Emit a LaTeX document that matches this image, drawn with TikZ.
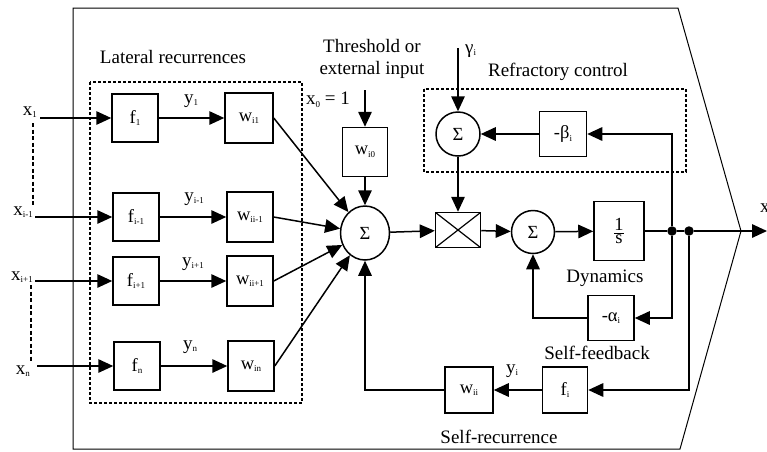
\documentclass[tikz,border=0pt]{standalone}
\usepackage{fontspec}
\setmainfont{Liberation Serif}
\usetikzlibrary{arrows.meta,shapes.geometric}
\newcommand\sbs[1]{\raisebox{-2.5pt}{\fontsize{9}{9}\selectfont #1}}
\begin{document}
\begin{tikzpicture}[x=1pt,y=-1pt,
  blk/.style={draw,line width=1.5pt,inner sep=0pt,font=\fontsize{18.5}{18.5}\selectfont},
  fblk/.style={blk,minimum width=46pt,minimum height=48pt},
  wblk/.style={blk,minimum width=46pt,minimum height=50pt},
  sumc/.style={blk,circle,minimum size=#1},
  lbl/.style={inner sep=0pt,font=\fontsize{19}{22}\selectfont},
  arr/.style={line width=1.5pt,-{Triangle[length=15pt,width=13.5pt]}},
  ln/.style={line width=1.5pt},
  dashbox/.style={line width=1.6pt,dash pattern=on 3pt off 2pt},
  ldash/.style={line width=1.6pt,dash pattern=on 4pt off 2.5pt},
  dot/.style={circle,fill,inner sep=0pt,minimum size=9.5pt}
]
\useasboundingbox (0,0) rectangle (767,451);
% outer frame
\draw[line width=1pt] (73,8) -- (678,8) -- (741,231) -- (680,449) -- (73,449) -- cycle;
% lateral box
\draw[dashbox] (90,82) rectangle (302,403);
\node[lbl] (latl) at (173,57) {Lateral recurrences};
% inputs labels
\node[lbl,anchor=base east] (xl1) at (37,115) {x\sbs{1}};
\node[lbl,anchor=base east] (xl2) at (33,215) {x\sbs{i-1}};
\node[lbl,anchor=base east] (xl3) at (33,280) {x\sbs{i+1}};
\node[lbl,anchor=base east] (xl4) at (30,374) {x\sbs{n}};
\coordinate (in1) at (40,118);
\coordinate (in2) at (35,217);
\coordinate (in3) at (35,281);
\coordinate (in4) at (37,366);
\draw[ldash] (33,123) -- (33,207);
\draw[ldash] (31,285) -- (31,362);
% f boxes
\node[fblk] (f1) at (135,118) {f\sbs{1}};
\node[fblk] (f2) at (136,217) {f\sbs{i-1}};
\node[fblk] (f3) at (136,281) {f\sbs{i+1}};
\node[fblk] (f4) at (137,366) {f\sbs{n}};
% w boxes
\node[wblk,minimum width=48pt] (w1) at (249,118) {w\sbs{i1}};
\node[wblk] (w2) at (250,217) {w\sbs{ii-1}};
\node[wblk] (w3) at (250,281) {w\sbs{ii+1}};
\node[wblk] (w4) at (251,366) {w\sbs{in}};
% y labels
\node[lbl] (y1) at (191,101) {y\sbs{1}};
\node[lbl] (y2) at (194,199) {y\sbs{i-1}};
\node[lbl] (y3) at (193,264) {y\sbs{i+1}};
\node[lbl] (y4) at (190,347) {y\sbs{n}};
% main row
\node[blk,ellipse,minimum width=49pt,minimum height=54pt] (s1) at (365,233) {Σ};
\node[blk,minimum width=45pt,minimum height=35pt,
  path picture={\draw[line width=1.2pt] (path picture bounding box.north west) -- (path picture bounding box.south east)
  (path picture bounding box.south west) -- (path picture bounding box.north east);}] (mult) at (458,230) {};
\node[sumc=43pt] (s2) at (533,232) {Σ};
\node[blk,minimum width=50pt,minimum height=59pt] (ins) at (619,231) {$\frac{\hbox{1}}{\hbox{s}}$};
\node[dot] (d1) at (672,231) {};
\node[dot] (d2) at (689,231) {};
\coordinate (out) at (767,231);
\node[lbl,anchor=west] (xo) at (760,209) {x\sbs{i}};
% threshold
\node[lbl,align=center] (thr) at (372,59) {Threshold or\\external input};
\node[lbl] (x0l) at (328,100) {x\sbs{0} = 1};
\coordinate (x0in) at (365,90);
\node[blk,minimum width=45pt,minimum height=49pt] (w0) at (365,152) {w\sbs{i0}};
% refractory
\draw[dashbox] (424,89) rectangle (686,172);
\node[lbl] (refl) at (558,72) {Refractory control};
\coordinate (gin) at (458,48);
\node[lbl,anchor=west] (gl) at (465,51) {γ\sbs{i}};
\node[sumc=44pt] (s3) at (458,134) {Σ};
\node[blk,minimum width=47pt,minimum height=45pt] (beta) at (563,134) {-β\sbs{i}};
% self feedback
\node[blk,minimum width=46pt,minimum height=45pt] (alpha) at (611,318) {-α\sbs{i}};
\node[lbl] (dyn) at (605,278) {Dynamics};
\node[lbl] (sfb) at (597,353) {Self-feedback};
% self recurrence
\node[blk,minimum width=45pt,minimum height=46pt] (fi) at (565,390) {f\sbs{i}};
\node[blk,minimum width=48pt,minimum height=46pt] (wii) at (469,390) {w\sbs{ii}};
\node[lbl] (yi) at (512,371) {y\sbs{i}};
\node[lbl] (srl) at (499,437) {Self-recurrence};
% connectors lateral
\draw[arr] (in1) -- (f1.west);
\draw[arr] (in2) -- (f2.west);
\draw[arr] (in3) -- (f3.west);
\draw[arr] (in4) -- (f4.west);
\draw[arr] (f1) -- (w1);
\draw[arr] (f2) -- (w2);
\draw[arr] (f3) -- (w3);
\draw[arr] (f4) -- (w4);
\draw[arr] (w1.east) -- (s1);
\draw[arr] (w2.east) -- (s1);
\draw[arr] (w3.east) -- (s1);
\draw[arr] (w4.east) -- (s1);
% main
\draw[arr] (x0in) -- (w0);
\draw[arr] (w0) -- (s1);
\draw[arr] (s1) -- (mult);
\draw[arr] (mult) -- (s2);
\draw[arr] (s2) -- (ins);
\draw[ln] (ins.east) -- (d1) -- (d2);
\draw[arr] (d2) -- (out);
% refractory
\draw[arr] (gin) -- (s3);
\draw[arr] (s3) -- (mult);
\draw[arr] (d1) |- (beta.east);
\draw[arr] (beta) -- (s3);
% feedback
\draw[arr] (d1) |- (alpha.east);
\draw[arr] (alpha.west) -| (s2.south);
\draw[arr] (d2) |- (fi.east);
\draw[arr] (fi) -- (wii);
\draw[arr] (wii.west) -| (s1.south);
\end{tikzpicture}
\end{document}
